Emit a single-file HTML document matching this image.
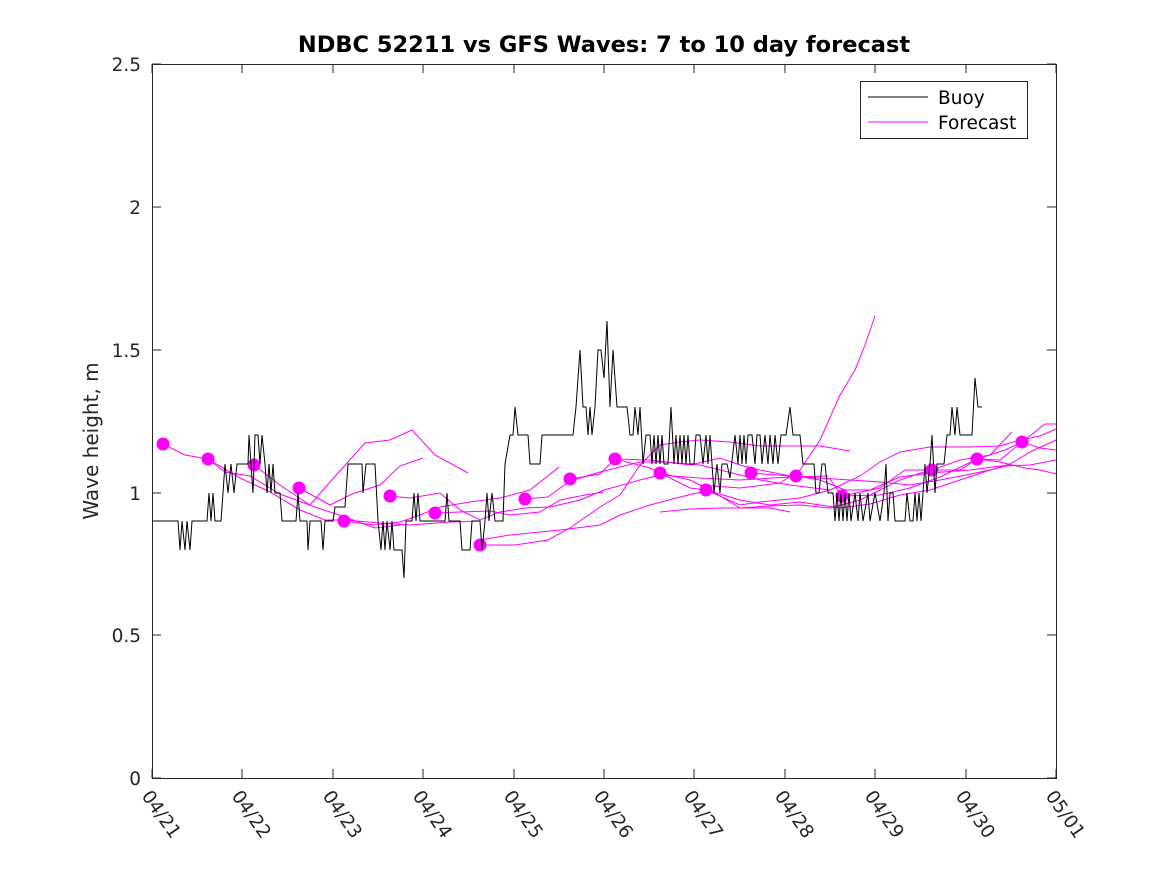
<!DOCTYPE html>
<html><head><meta charset="utf-8"><style>body{margin:0;background:#fff}svg{display:block}text{font-family:"DejaVu Sans","Liberation Sans",sans-serif}</style></head><body>
<svg width="1167" height="875" xmlns="http://www.w3.org/2000/svg">
<rect width="1167" height="875" fill="#fff"/>
<text x="604" y="52" font-size="22.5" font-weight="bold" text-anchor="middle" fill="#000">NDBC 52211 vs GFS Waves: 7 to 10 day forecast</text>
<g stroke="#262626" stroke-width="1" fill="none">
<rect x="152.5" y="64.5" width="904" height="714"/>
<path d="M152 778h9M152 635h9M152 493h9M152 350h9M152 207h9M152 64h9M1056 778h-9M1056 635h-9M1056 493h-9M1056 350h-9M1056 207h-9M1056 64h-9"/>
<path d="M152 778v-9M242 778v-9M333 778v-9M423 778v-9M514 778v-9M604 778v-9M694 778v-9M785 778v-9M875 778v-9M966 778v-9M1056 778v-9M152 64v9M242 64v9M333 64v9M423 64v9M514 64v9M604 64v9M694 64v9M785 64v9M875 64v9M966 64v9M1056 64v9"/>
</g>
<g font-size="18.5" fill="#262626" text-anchor="end">
<text x="141" y="785">0</text><text x="141" y="642">0.5</text><text x="141" y="500">1</text><text x="141" y="357">1.5</text><text x="141" y="214">2</text><text x="141" y="71">2.5</text>
</g>
<g font-size="18.5" fill="#262626">
<text transform="translate(141,796) rotate(55)">04/21</text>
<text transform="translate(231,796) rotate(55)">04/22</text>
<text transform="translate(322,796) rotate(55)">04/23</text>
<text transform="translate(412,796) rotate(55)">04/24</text>
<text transform="translate(503,796) rotate(55)">04/25</text>
<text transform="translate(593,796) rotate(55)">04/26</text>
<text transform="translate(683,796) rotate(55)">04/27</text>
<text transform="translate(774,796) rotate(55)">04/28</text>
<text transform="translate(864,796) rotate(55)">04/29</text>
<text transform="translate(955,796) rotate(55)">04/30</text>
<text transform="translate(1045,796) rotate(55)">05/01</text>
</g>
<text transform="translate(98,441) rotate(-90)" font-size="20" fill="#262626" text-anchor="middle">Wave height, m</text>
<g fill="none" stroke="#f0f" stroke-width="1">
<polyline points="163,444 185,455 208,459 240,478 270,492 300,510 325,520 345,520 380,523 410,525 450,522 480,521"/>
<polyline points="208,459 225,472 250,476 280,494 315,507 345,517 375,528 400,525"/>
<polyline points="254,465 280,485 310,505 330,482 365,443 390,440 412,430 435,455 468,473"/>
<polyline points="299,488 330,505 352,494 380,485 400,466 423,458"/>
<polyline points="344,521 375,525 400,522 420,515 440,507 470,502 500,498 530,490 559,467"/>
<polyline points="390,496 410,498 440,493 460,510 480,520 500,512 525,508 550,507 580,500 604,490 640,480 660,475 700,478 740,480 790,477 828,476"/>
<polyline points="435,513 460,512 490,511 510,515 540,512 560,500 585,495 604,492"/>
<polyline points="480,545 515,545 548,540 570,528 600,507 620,495 640,465 660,445 680,442 700,440 730,442 760,446 790,446 820,446 850,451"/>
<polyline points="525,499 548,497 570,481 600,472 640,462 665,462 700,465 720,470 760,480 790,485 830,490"/>
<polyline points="570,479 600,474 615,459 650,460 690,465 720,458 740,465 760,470 790,476 820,478 850,480 880,482 910,485 940,480 966,475 990,470 1010,464 1030,452 1056,440"/>
<polyline points="615,459 650,468 660,473 690,480 710,490 740,508 770,506 800,505 830,508 860,500 880,490 900,480 930,470"/>
<polyline points="660,473 690,488 706,490 740,500 770,505 800,502 840,508 870,504 900,495 930,490 960,480 990,470 1010,465"/>
<polyline points="706,490 740,505 760,502 800,498 830,490 860,476 880,462 900,452 930,447 970,447 1000,446 1020,440 1040,436 1056,429"/>
<polyline points="751,473 790,476 796,476 820,480 845,490 870,490 900,477 930,473 970,470 1000,466 1030,465 1056,460"/>
<polyline points="796,476 830,479 842,496 880,495 910,488 940,477 977,459 1000,462 1025,468 1040,470 1056,474"/>
<polyline points="700,485 740,488 780,483 800,470 820,440 840,395 855,370 865,345 875,316"/>
<polyline points="842,496 880,488 905,470 932,470 960,460 990,455 1012,432"/>
<polyline points="932,470 960,470 977,459 1005,450 1022,442 1040,448 1056,450"/>
<polyline points="977,459 1000,460 1022,442 1045,424 1056,424"/>
<polyline points="660,512 690,509 720,508 770,508 790,512"/>
<polyline points="480,540 510,535 560,530 600,525 620,515 650,505 680,497 710,490"/>
</g>
<g fill="#f0f">
<circle cx="163" cy="444" r="6.5"/><circle cx="208" cy="459" r="6.5"/><circle cx="254" cy="465" r="6.5"/><circle cx="299" cy="488" r="6.5"/><circle cx="344" cy="521" r="6.5"/><circle cx="390" cy="496" r="6.5"/><circle cx="435" cy="513" r="6.5"/><circle cx="480" cy="545" r="6.5"/><circle cx="525" cy="499" r="6.5"/><circle cx="570" cy="479" r="6.5"/><circle cx="615" cy="459" r="6.5"/><circle cx="660" cy="473" r="6.5"/><circle cx="706" cy="490" r="6.5"/><circle cx="751" cy="473" r="6.5"/><circle cx="796" cy="476" r="6.5"/><circle cx="842" cy="496" r="6.5"/><circle cx="932" cy="470" r="6.5"/><circle cx="977" cy="459" r="6.5"/><circle cx="1022" cy="442" r="6.5"/>
</g>
<polyline fill="none" stroke="#000" stroke-width="1" points="152,521 178,521 180,550 182,521 185,550 187,521 190,550 192,521 207,521 209,493 211,521 213,493 215,521 221,521 223,493 225,464 228,493 231,464 234,493 237,464 248,464 249,435 251,464 253,493 255,435 258,435 260,464 262,435 265,464 267,493 269,464 271,493 273,464 275,493 280,493 282,521 296,521 298,493 300,521 307,521 308,550 310,521 321,521 323,550 325,521 333,521 335,507 345,507 348,464 362,464 363,493 366,464 375,464 378,521 381,550 383,521 385,550 387,521 390,550 392,521 394,550 402,550 404,578 406,521 412,521 414,493 416,521 418,493 420,521 445,521 447,493 449,521 460,521 462,550 470,550 472,521 480,521 482,550 485,521 487,493 489,521 492,493 495,521 503,521 505,464 510,435 513,435 515,407 518,435 528,435 530,464 540,464 542,435 573,435 576,407 580,350 583,407 586,407 588,435 590,407 592,435 595,407 598,350 601,350 604,378 607,321 610,407 613,350 617,407 627,407 630,435 633,435 635,407 638,435 640,407 643,464 646,435 650,435 652,464 654,435 656,464 658,435 660,464 662,435 664,464 668,464 671,407 674,464 676,435 678,464 680,435 682,464 684,435 686,464 688,435 690,464 694,464 696,435 700,435 703,464 706,435 708,464 710,435 712,464 714,493 717,464 720,493 722,464 727,464 730,478 735,435 738,464 740,435 742,464 744,435 746,464 748,435 752,435 755,464 757,435 760,435 762,464 765,435 768,464 770,435 773,464 775,435 778,464 781,435 786,435 790,407 793,435 800,435 803,464 810,464 814,464 816,493 819,493 822,464 825,464 828,493 833,493 835,521 837,493 839,521 841,493 843,521 845,493 847,521 849,493 851,521 855,493 858,521 860,493 863,521 868,493 870,521 875,493 880,521 884,493 886,464 888,521 890,493 893,493 895,521 905,521 907,493 910,521 913,521 915,493 917,521 919,493 921,521 923,493 925,464 927,493 930,464 932,435 935,493 937,464 944,464 947,435 950,435 952,407 955,435 957,407 960,435 972,435 975,378 978,407 982,407"/>
<rect x="860.5" y="81.5" width="167" height="57" fill="#fff" stroke="#262626"/>
<line x1="868" y1="97" x2="928" y2="97" stroke="#000"/>
<line x1="868" y1="122" x2="928" y2="122" stroke="#f0f"/>
<text x="938" y="104" font-size="18.5" fill="#000">Buoy</text>
<text x="938" y="129" font-size="18.5" fill="#000">Forecast</text>
</svg>
</body></html>
